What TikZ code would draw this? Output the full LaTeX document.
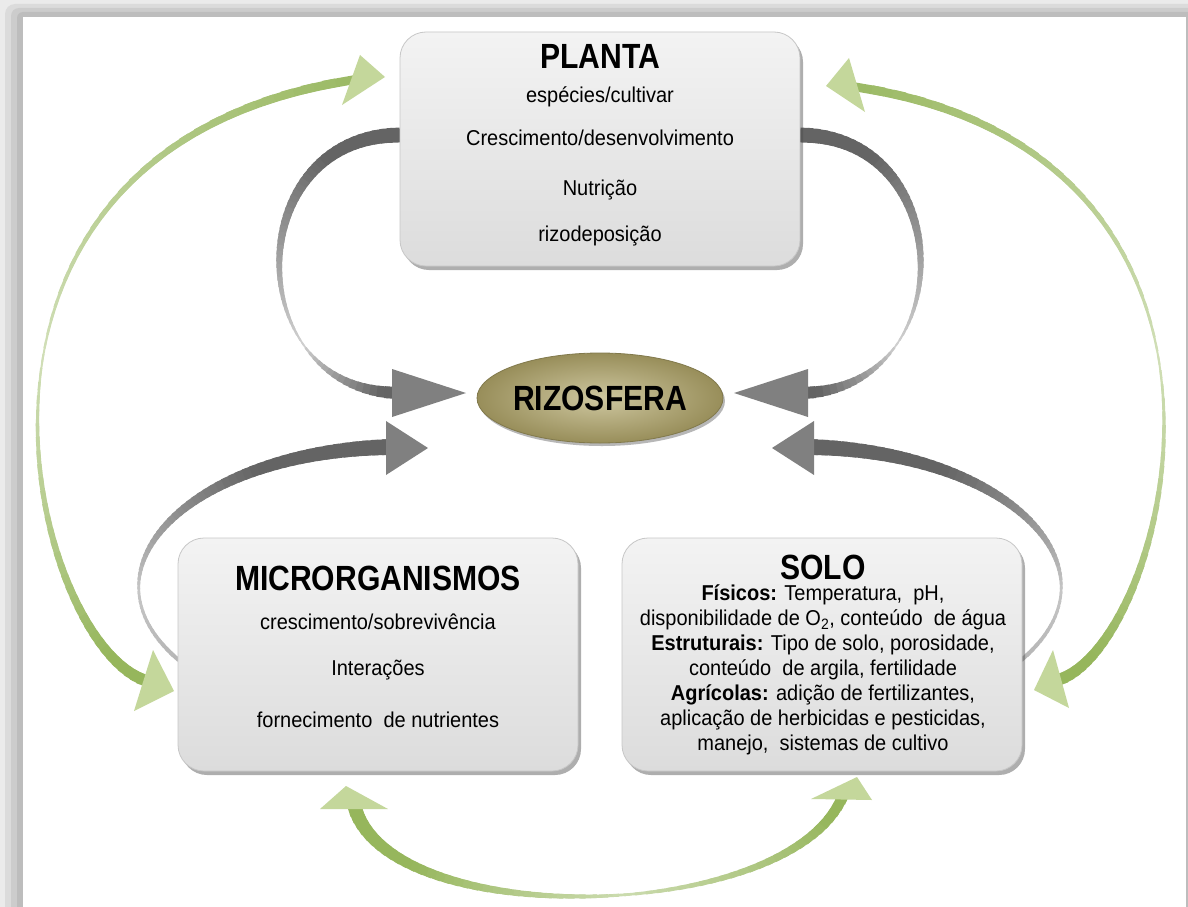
\documentclass[tikz,border=0pt]{standalone}
\usepackage{fontspec}
\setmainfont{Liberation Sans}[FakeStretch=0.93]
\newfontface\ttlface[FakeStretch=0.86]{Liberation Sans Bold}
\usetikzlibrary{shapes.geometric,shadows}
\definecolor{garc}{RGB}{100,100,100}
\definecolor{ghead}{RGB}{128,128,128}
\definecolor{grarc}{RGB}{150,182,92}
\definecolor{grhead}{RGB}{196,215,155}
\definecolor{boxtop}{RGB}{243,243,243}
\definecolor{boxbot}{RGB}{220,220,220}
\definecolor{oliveA}{RGB}{206,199,160}
\definecolor{oliveB}{RGB}{152,142,90}
% tapered cubic Bezier: uses \tws \twm \twe \ttm \tcol \tcmin
\newcommand{\taperbez}[8]{%
\foreach \i in {0,...,59}{%
 \pgfmathsetmacro{\ta}{\i/60}%
 \pgfmathsetmacro{\tb}{min(1,(\i+1.6)/60)}%
 \pgfmathsetmacro{\tc}{(\i+0.5)/60}%
 \pgfmathsetmacro{\xa}{(1-\ta)^3*(#1)+3*(1-\ta)^2*\ta*(#3)+3*(1-\ta)*\ta^2*(#5)+\ta^3*(#7)}%
 \pgfmathsetmacro{\ya}{(1-\ta)^3*(#2)+3*(1-\ta)^2*\ta*(#4)+3*(1-\ta)*\ta^2*(#6)+\ta^3*(#8)}%
 \pgfmathsetmacro{\xb}{(1-\tb)^3*(#1)+3*(1-\tb)^2*\tb*(#3)+3*(1-\tb)*\tb^2*(#5)+\tb^3*(#7)}%
 \pgfmathsetmacro{\yb}{(1-\tb)^3*(#2)+3*(1-\tb)^2*\tb*(#4)+3*(1-\tb)*\tb^2*(#6)+\tb^3*(#8)}%
 \pgfmathsetmacro{\w}{\tc<\ttm ? \tws+(\twm-\tws)*\tc/\ttm : \twm+(\twe-\twm)*(\tc-\ttm)/(1-\ttm)}%
 \pgfmathtruncatemacro{\cc}{min(100,\tcmin+7*\w)}%
 \draw[line width=\w pt, \tcol!\cc!white] (\xa,\ya) -- (\xb,\yb);
}}
\begin{document}
\begin{tikzpicture}[x=1pt,y=-1pt,
  box/.style={draw=black!22, line width=0.8pt, rounded corners=26pt,
    top color=boxtop, bottom color=boxbot,
    drop shadow={shadow xshift=3pt, shadow yshift=-4pt, opacity=0.45, fill=black!70},
    minimum width=400pt, minimum height=234pt, inner sep=0pt},
  ttl/.style={font=\fontsize{35}{41}\ttlface, inner sep=0pt},
  txt/.style={font=\fontsize{21.5}{25}\selectfont, inner sep=0pt, align=center},
  ghd/.style={fill=ghead},
  grh/.style={fill=grhead},
]
\useasboundingbox (0,0) rectangle (1188,907);
% frame
\fill[black!8] (0,0) rectangle (1188,907);
\fill[black!14, rounded corners=10pt] (5,4) rectangle (1200,930);
\fill[black!20, rounded corners=8pt] (11,8) rectangle (1200,930);
\fill[black!26, rounded corners=6pt] (17,12) rectangle (1200,930);
\fill[white] (23,17) rectangle (1186,907);

% ---- gray arrows ----
\def\tcol{garc}\def\tcmin{20}
\def\tws{15}\def\twm{1.5}\def\twe{13}\def\ttm{0.72}
\taperbez{400}{135}{239}{135}{239}{393}{400}{393}
\taperbez{800}{135}{961}{135}{961}{393}{800}{393}
\def\tws{4}\def\twm{2.5}\def\twe{16}\def\ttm{0.25}
\taperbez{178.7}{660.2}{72.2}{570.1}{190}{451}{392}{447}
\taperbez{1021.3}{660.2}{1127.8}{570.1}{1010}{451}{808}{447}
\fill[ghd] (392,369) -- (466,393) -- (392,417) -- cycle;
\fill[ghd] (808,369) -- (734,393) -- (808,417) -- cycle;
\fill[ghd] (386,421) -- (428,448) -- (386,475) -- cycle;
\fill[ghd] (814,421) -- (772,448) -- (814,475) -- cycle;

% ---- green arrows ----
\def\tcol{grarc}\def\tcmin{32}
\def\tws{9}\def\twm{1.8}\def\twe{12}\def\ttm{0.45}
\taperbez{358}{79}{-100}{147}{33}{654.5}{150}{682}
\taperbez{850}{86}{1300}{150}{1167}{655}{1055}{681}
\def\tws{14}\def\twm{2.5}\def\twe{11}\def\ttm{0.55}
\taperbez{354}{805}{385}{932}{790}{925}{843}{796}
\fill[grh] (360,55) -- (385,77) -- (342,105) -- cycle;
\fill[grh] (153,650) -- (174,691) -- (134,711) -- cycle;
\fill[grh] (849,58) -- (826,86) -- (865,112) -- cycle;
\fill[grh] (1053,650) -- (1034,690) -- (1069,708) -- cycle;
\fill[grh] (320,809) -- (346,786) -- (388,809) -- cycle;
\fill[grh] (811,799) -- (857,777) -- (872,800) -- cycle;

% ---- boxes ----
\node[box] (planta) at (600,149) {};
\node[box, minimum height=233pt] (micro) at (378,654.5) {};
\node[box, minimum height=233pt] (solo) at (822,654.5) {};
\node[ellipse, minimum width=226pt, minimum height=90pt, inner sep=0pt,
  draw=oliveB!85!black, line width=0.8pt, inner color=oliveA, outer color=oliveB,
  drop shadow={shadow xshift=2pt, shadow yshift=-3pt, opacity=0.4, fill=black!70},
  font=\fontsize{35}{41}\ttlface] (riz) at (600,398) {RIZOSFERA};

% ---- texts ----
\node[ttl] (plantaT) at (600,56) {PLANTA};
\node[txt] (p1) at (600,97) {espécies/cultivar};
\node[txt] (p2) at (600,138) {Crescimento/desenvolvimento};
\node[txt] (p3) at (600,190) {Nutrição};
\node[txt] (p4) at (600,236) {rizodeposição};

\node[ttl] (microT) at (378,578) {MICRORGANISMOS};
\node[txt] (m1) at (378,622) {crescimento/sobrevivência};
\node[txt] (m2) at (378,670) {Interações};
\node[txt] (m3) at (378,720) {fornecimento\ \ de nutrientes};

\node[ttl] (soloT) at (823,567) {SOLO};
\node[txt] (soloB) at (823,670) {\textbf{Físicos:} Temperatura,\ \ pH,\\
disponibilidade de O\textsubscript{2}, conteúdo\ \ de água\\
\textbf{Estruturais:} Tipo de solo, porosidade,\\
conteúdo\ \ de argila, fertilidade\\
\textbf{Agrícolas:} adição de fertilizantes,\\
aplicação de herbicidas e pesticidas,\\
manejo,\ \ sistemas de cultivo};
\end{tikzpicture}
\end{document}
